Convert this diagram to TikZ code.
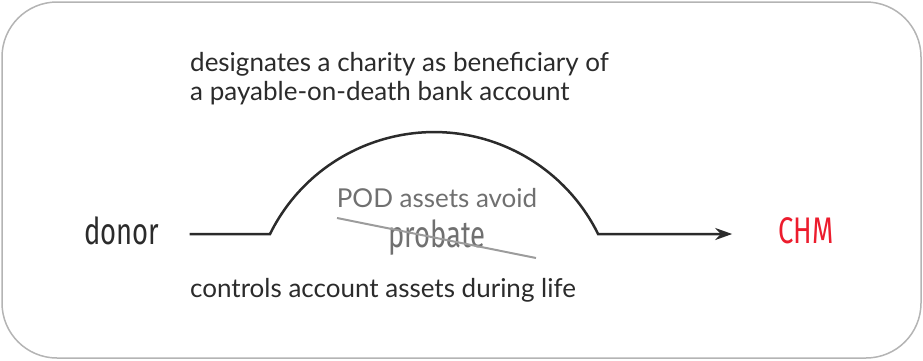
\documentclass[tikz,border=0pt]{standalone}
\usepackage{fontspec}
\setmainfont{Lato}
\newfontfamily\condfont[FakeStretch=0.74]{Fira Sans}
\usetikzlibrary{arrows.meta}
\definecolor{framegray}{HTML}{B4B4B4}
\definecolor{chmred}{HTML}{EC1C2D}
\definecolor{notetext}{HTML}{2B2B2B}
\definecolor{asidegray}{HTML}{707070}
\definecolor{strikegray}{HTML}{9C9C9C}
\tikzstyle{frame} = [draw=framegray, line width=1.5pt, rounded corners=55pt]
\tikzstyle{party} = [font=\condfont\fontsize{37}{42}\selectfont, text=notetext, inner sep=0pt]
\tikzstyle{note} = [font=\fontsize{26}{29}\selectfont, text=notetext, align=left, inner sep=0pt]
\tikzstyle{aside} = [font=\fontsize{26}{29}\selectfont, text=asidegray, inner sep=0pt]
\tikzstyle{arrow} = [draw=notetext, line width=2.5pt, ->, >={Stealth[length=17pt, width=12pt]}]
\tikzstyle{strike} = [draw=strikegray, line width=2pt]

\begin{document}
\begin{tikzpicture}[x=1pt, y=-1pt]
  \useasboundingbox (0,0) rectangle (923,360);
  \draw [frame] (2,2) rectangle (921,358);

  \node (donor) [party] at (122,231) {donor};
  \node (chm) [party, text=chmred] at (806,231) {CHM};
  \coordinate (rise) at (270,234);
  \coordinate (fall) at (598,234);

  \node (designates) [note, anchor=north west] at (190,52) {designates a charity as beneficiary of\\a payable-on-death bank account};
  \node (controls) [note, anchor=base west] at (190,297) {controls account assets during life};
  \node (avoid) [aside, anchor=base] at (437,207) {POD assets avoid};
  \node (probate) [aside, font=\condfont\fontsize{37}{40}\selectfont, anchor=base] at (437,247) {probate};
  \coordinate (strikeA) at (337,218);
  \coordinate (strikeB) at (536,258);

  \draw [arrow, shorten <=30pt, shorten >=46pt] (donor.east |- rise) -- (rise)
    arc [start angle=-153.7, end angle=-26.3, radius=183] -- (chm.west |- fall);
  \draw [strike] (strikeA) -- (strikeB);

\end{tikzpicture}
\end{document}
